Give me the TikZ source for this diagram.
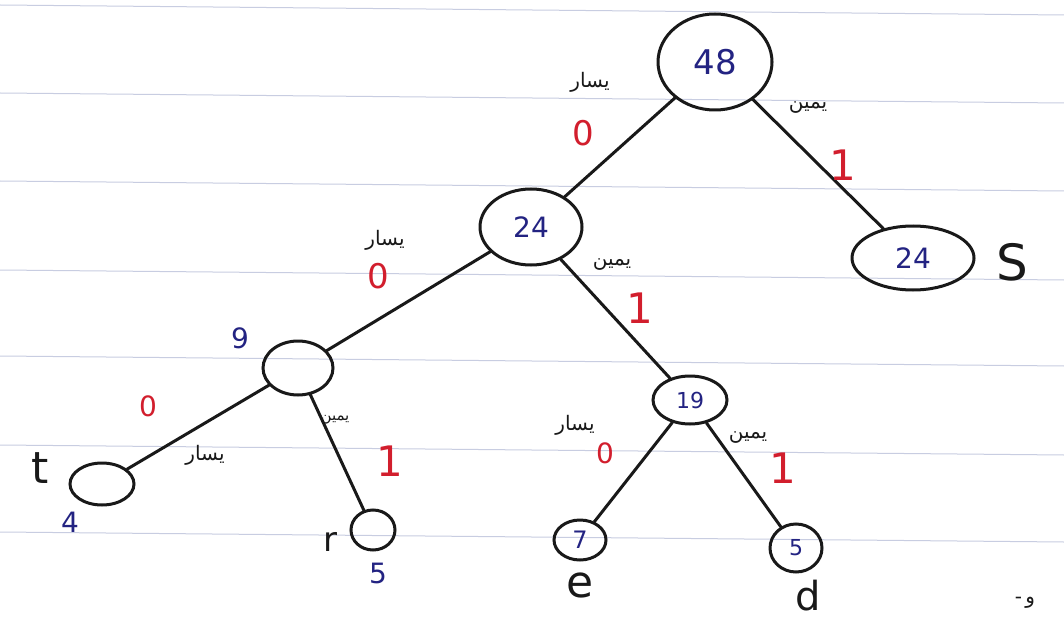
\documentclass[tikz,border=0pt]{standalone}
\usepackage{fontspec}
\setmainfont{DejaVu Sans}
\newfontfamily\arabicfont[Script=Arabic]{DejaVu Sans}
\TeXXeTstate=1
\usetikzlibrary{shapes.geometric}
\definecolor{ink}{RGB}{25,25,25}
\definecolor{bink}{RGB}{35,35,130}
\definecolor{rink}{RGB}{210,30,45}
\definecolor{paperrule}{RGB}{200,205,225}
\begin{document}
\begin{tikzpicture}[x=1pt,y=-1pt,
  nd/.style={ellipse, draw=ink, line width=3pt, inner sep=0pt, text=bink, font=\fontsize{28}{28}\selectfont},
  edge/.style={draw=ink, line width=3pt, line cap=round},
  bit/.style={text=rink, font=\fontsize{42}{42}\selectfont},
  zero/.style={text=rink, font=\fontsize{34}{34}\selectfont},
  ar/.style={text=ink, font=\arabicfont\fontsize{20}{20}\selectfont},
  wt/.style={text=bink, font=\fontsize{28}{28}\selectfont},
  sym/.style={text=ink, font=\fontsize{44}{44}\selectfont},
  paper/.style={draw=paperrule, line width=1pt}]
\fill[white] (0,0) rectangle (1064,620);
\useasboundingbox (0,0) rectangle (1064,620);
% ruled paper
\foreach \yy in {5,93,181,270,356,445,532}
  \draw[paper] (0,\yy) -- (1064,\yy+10);
% nodes
\node[nd, minimum width=114pt, minimum height=96pt, font=\fontsize{34}{34}\selectfont] (n48) at (715,62) {48};
\node[nd, minimum width=102pt, minimum height=76pt] (n24) at (531,227) {24};
\node[nd, minimum width=122pt, minimum height=64pt] (s24) at (913,258) {24};
\node[nd, minimum width=70pt, minimum height=54pt] (n9) at (298,368) {};
\node[nd, minimum width=64pt, minimum height=42pt] (nt) at (102,484) {};
\node[nd, minimum width=44pt, minimum height=40pt] (nr) at (373,530) {};
\node[nd, minimum width=74pt, minimum height=48pt, font=\fontsize{22}{22}\selectfont] (n19) at (690,400) {19};
\node[nd, minimum width=52pt, minimum height=40pt, font=\fontsize{24}{24}\selectfont] (ne) at (580,540) {7};
\node[nd, minimum width=52pt, minimum height=48pt, font=\fontsize{22}{22}\selectfont] (nd5) at (796,548) {5};
% edges
\draw[edge] (n48) -- (n24);
\draw[edge] (n48) -- (s24);
\draw[edge] (n24) -- (n9);
\draw[edge] (n24) -- (n19);
\draw[edge] (n9) -- (nt);
\draw[edge] (n9) -- (nr);
\draw[edge] (n19) -- (ne);
\draw[edge] (n19) -- (nd5);
% bit labels
\node[zero] (b1) at (583,133) {0};
\node[bit] (b2) at (843,165) {1};
\node[zero] (b3) at (378,276) {0};
\node[bit] (b4) at (640,308) {1};
\node[zero, font=\fontsize{28}{28}\selectfont] (b5) at (148,406) {0};
\node[bit] (b6) at (390,461) {1};
\node[zero, font=\fontsize{28}{28}\selectfont] (b7) at (605,453) {0};
\node[bit] (b8) at (783,468) {1};
% arabic direction labels
\node[ar] (a1) at (590,82) {\beginR يسار\endR};
\node[ar] (a2) at (808,108) {\beginR يمين\endR};
\node[ar] (a3) at (385,240) {\beginR يسار\endR};
\node[ar] (a4) at (612,265) {\beginR يمين\endR};
\node[ar] (a5) at (205,455) {\beginR يسار\endR};
\node[ar, font=\arabicfont\fontsize{15}{15}\selectfont] (a6) at (335,420) {\beginR يمين\endR};
\node[ar] (a7) at (575,425) {\beginR يسار\endR};
\node[ar] (a8) at (748,438) {\beginR يمين\endR};
% weights and symbols
\node[wt] (w9) at (240,338) {9};
\node[wt] (w4) at (70,522) {4};
\node[wt] (w5) at (378,573) {5};
\node[sym] (st) at (40,468) {t};
\node[sym, font=\fontsize{34}{34}\selectfont] (sr) at (330,542) {r};
\node[sym] (se) at (580,585) {e};
\node[sym, font=\fontsize{40}{40}\selectfont] (sd) at (808,596) {d};
\node[sym, font=\fontsize{50}{50}\selectfont] (sS) at (1012,262) {S};
\node[text=ink, font=\fontsize{20}{20}\selectfont] (foot) at (1025,603) {-\,{\arabicfont و}};
\end{tikzpicture}
\end{document}
